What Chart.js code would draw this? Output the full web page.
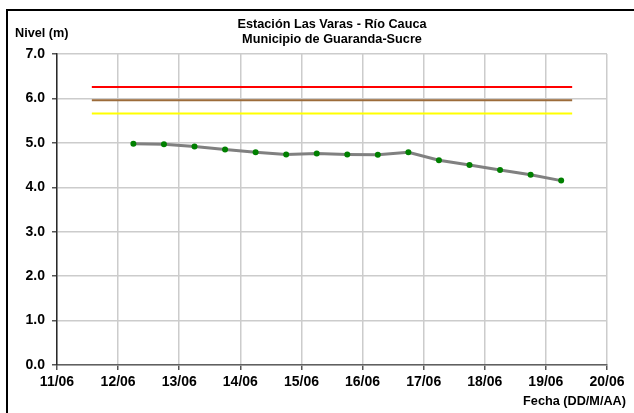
<!DOCTYPE html>
<html>
<head>
<meta charset="utf-8">
<script src="https://cdn.jsdelivr.net/npm/chart.js@4.4.1/dist/chart.umd.min.js"></script>
<style>
  body { margin: 0; background: #fff; overflow: hidden; }
  #marco { position: absolute; left: 6px; top: 9px; width: 800px; height: 600px;
           border-left: 2px solid #000; border-top: 2px solid #000; }
  #chart { position: absolute; left: 0; top: 0; }
</style>
</head>
<body>
<div id="marco"></div>
<canvas id="chart" width="634" height="413"></canvas>
<script>
// fechas en dias de junio (06:00 y 18:00)
const fechas = [12.25, 12.75, 13.25, 13.75, 14.25, 14.75, 15.25, 15.75, 16.25, 16.75, 17.25, 17.75, 18.25, 18.75, 19.25];
const niveles = [4.98, 4.97, 4.92, 4.85, 4.79, 4.74, 4.76, 4.74, 4.73, 4.79, 4.61, 4.50, 4.39, 4.28, 4.15];

// cotas de alerta
const alertaRoja = 6.26;
const alertaNaranja = 5.96;
const alertaAmarilla = 5.66;
const rangoAlertas = [11.57, 19.43];

const etiquetasX = ['11/06', '12/06', '13/06', '14/06', '15/06', '16/06', '17/06', '18/06', '19/06', '20/06'];
const tituloLineas = ['Estación Las Varas - Río Cauca', 'Municipio de Guaranda-Sucre'];
const tituloY = 'Nivel (m)';
const tituloX = 'Fecha (DD/M/AA)';

const FUENTE = "'Liberation Sans', Arial, sans-serif";

function linea(valor, color) {
    return {
        data: rangoAlertas.map(x => ({ x: x, y: valor })),
        borderColor: color,
        borderWidth: 2,
        pointRadius: 0,
        fill: false
    };
}

const textos = {
    id: 'textos',
    afterDraw(chart) {
        const ctx = chart.ctx;
        const area = chart.chartArea;
        ctx.save();
        ctx.fillStyle = '#000';
        ctx.font = 'bold 12.7px ' + FUENTE;
        ctx.textBaseline = 'middle';
        ctx.textAlign = 'center';
        const cx = (area.left + area.right) / 2;
        ctx.fillText(tituloLineas[0], cx, 24);
        ctx.fillText(tituloLineas[1], cx, 39.5);
        ctx.textAlign = 'left';
        ctx.fillText(tituloY, 15, 33.5);
        ctx.textAlign = 'right';
        ctx.fillText(tituloX, 626, 401.5);
        ctx.restore();
    }
};

const ctx = document.getElementById('chart').getContext('2d');
var myChart = new Chart(ctx, {
    type: 'line',
    data: {
        datasets: [
            linea(alertaAmarilla, '#ffff00'),
            linea(alertaNaranja, '#9c6b3a'),
            linea(alertaRoja, '#ff0000'),
            {
                data: fechas.map((f, i) => ({ x: f, y: niveles[i] })),
                borderColor: '#808080',
                borderWidth: 3,
                pointRadius: 3,
                pointBackgroundColor: '#008000',
                pointBorderColor: '#008000',
                pointBorderWidth: 0,
                fill: false
            }
        ]
    },
    options: {
        responsive: false,
        animation: false,
        events: [],
        layout: { padding: { left: 0, top: 54, right: 27, bottom: 0 } },
        plugins: { legend: { display: false }, tooltip: { enabled: false }, title: { display: false } },
        scales: {
            x: {
                type: 'linear',
                min: 11, max: 20,
                afterFit: s => { s.height = 48; },
                grid: { color: '#cccccc', lineWidth: 1.5, tickColor: '#555555', tickLength: 5 },
                border: { color: '#606060', width: 1.5 },
                ticks: {
                    stepSize: 1,
                    padding: 4,
                    color: '#000',
                    maxRotation: 0,
                    autoSkip: false,
                    font: { family: FUENTE, size: 14, weight: 'bold' },
                    callback: (v, i) => etiquetasX[i]
                }
            },
            y: {
                min: 0, max: 7,
                afterFit: s => { s.width = 57; },
                grid: { color: '#cccccc', lineWidth: 1.5, tickColor: '#555555', tickLength: 5 },
                border: { color: '#2a2a2a', width: 1.5 },
                ticks: {
                    stepSize: 1,
                    padding: 7,
                    color: '#000',
                    font: { family: FUENTE, size: 14, weight: 'bold' },
                    callback: v => v.toFixed(1)
                }
            }
        }
    },
    plugins: [textos]
});
</script>
</body>
</html>
